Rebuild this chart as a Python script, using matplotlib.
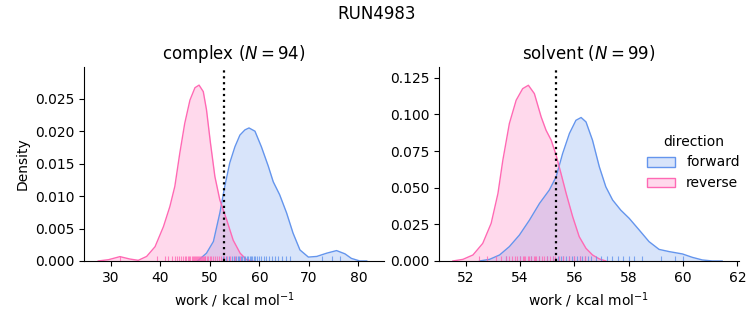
import matplotlib.pyplot as plt
from matplotlib.colors import to_rgba
from matplotlib.patches import Patch

# density curves (x: work, y: density)
cx_rev_x = [27.4, 29.5, 31.8, 33.8, 35.5, 37.2, 38.9, 40.6, 41.9, 42.9, 43.9, 44.9, 45.96, 46.97,
            47.8, 48.65, 49.3, 50.1, 51.0, 52.0, 53.4, 54.7, 56.1, 57.4, 58.7]
cx_rev_y = [0.0, 0.0002, 0.00067, 0.0003, 0.0001, 0.0007, 0.0022, 0.0053, 0.0084, 0.0115, 0.0166,
            0.0212, 0.0248, 0.0267, 0.0271, 0.0261, 0.0233, 0.0182, 0.013, 0.0094, 0.0063, 0.0032,
            0.0012, 0.0002, 0.0]
cx_fwd_x = [47.5, 49.3, 50.7, 52.0, 53.0, 54.0, 55.05, 56.06, 57.07, 57.9, 59.1, 60.4, 61.8, 62.8,
            64.1, 65.5, 66.8, 68.2, 69.9, 71.6, 73.6, 75.6, 77.3, 78.6, 80.3, 81.7]
cx_fwd_y = [0.0, 0.0012, 0.003, 0.0074, 0.0115, 0.0151, 0.0176, 0.0194, 0.0202, 0.0205, 0.0200,
            0.0176, 0.0146, 0.0122, 0.0102, 0.0074, 0.0043, 0.0017, 0.0006, 0.0007, 0.0012, 0.0016,
            0.0011, 0.0004, 0.0, 0.0]
sv_rev_x = [51.53, 51.9, 52.27, 52.63, 52.94, 53.19, 53.37, 53.61, 53.86, 54.1, 54.31, 54.53, 54.78,
            54.96, 55.15, 55.33, 55.51, 55.7, 55.94, 56.18, 56.43, 56.67, 56.92, 57.16]
sv_rev_y = [0.0, 0.0011, 0.0041, 0.012, 0.0257, 0.0461, 0.0688, 0.0938, 0.1097, 0.1176, 0.1199,
            0.1142, 0.0983, 0.0892, 0.0824, 0.0722, 0.0597, 0.0461, 0.0302, 0.0166, 0.0086, 0.0041,
            0.0014, 0.0]
sv_fwd_x = [52.51, 52.88, 53.25, 53.61, 53.98, 54.35, 54.72, 55.08, 55.33, 55.57, 55.82, 56.06, 56.25,
            56.43, 56.67, 56.92, 57.16, 57.41, 57.71, 58.02, 58.39, 58.75, 59.12, 59.49, 59.98, 60.34,
            60.71, 61.08, 61.44]
sv_fwd_y = [0.0, 0.0011, 0.0041, 0.0098, 0.0177, 0.0279, 0.0393, 0.0484, 0.0574, 0.0733, 0.087,
            0.096, 0.0979, 0.0949, 0.0824, 0.0643, 0.0506, 0.0416, 0.0347, 0.0291, 0.0211, 0.0132,
            0.0079, 0.0064, 0.0048, 0.0025, 0.0007, 0.0, 0.0]

# rug positions (estimated)
cx_rev_rug = [31.8, 39.2, 41.0, 41.6, 42.3, 42.9, 43.4, 43.8, 44.2, 44.6, 44.9, 45.2, 45.5, 45.8,
              46.0, 46.3, 46.5, 46.7, 46.9, 47.1, 47.3, 47.5, 47.7, 47.9, 48.1, 48.3, 48.5, 48.7,
              48.9, 49.1, 49.4, 49.7, 50.0, 50.3, 50.6, 51.0, 51.4, 51.8, 52.3, 52.8, 53.4, 54.1,
              55.0, 56.0]
cx_fwd_rug = [52.6, 53.3, 53.9, 54.4, 54.8, 55.2, 55.6, 55.9, 56.2, 56.5, 56.8, 57.1, 57.4, 57.7,
              58.0, 58.3, 58.6, 58.9, 59.2, 59.6, 60.0, 60.4, 60.9, 61.4, 61.9, 62.5, 63.1, 63.8,
              64.5, 65.3, 66.2, 72.6, 74.7, 76.3]
sv_rev_rug = [52.5, 52.8, 53.1, 53.3, 53.5, 53.6, 53.7, 53.8, 53.9, 54.0, 54.1, 54.15, 54.2, 54.3,
              54.35, 54.4, 54.5, 54.55, 54.6, 54.7, 54.8, 54.9, 55.0, 55.1, 55.2, 55.3, 55.45, 55.6,
              55.8, 56.0, 56.2, 56.4]
sv_fwd_rug = [53.5, 54.0, 54.4, 54.7, 55.0, 55.2, 55.4, 55.5, 55.6, 55.7, 55.8, 55.9, 56.0, 56.1,
              56.2, 56.3, 56.4, 56.5, 56.6, 56.8, 57.0, 57.2, 57.4, 57.6, 57.8, 58.0, 58.2, 58.5,
              59.2, 59.7, 60.0]

estimates = [52.8, 55.34]
titles = ['complex ($N = 94$)', 'solvent ($N = 99$)']
fwd_color = '#6495ED'
rev_color = '#FF69B4'

fig = plt.figure(figsize=(7.53, 3.25), dpi=100)
ax1 = fig.add_axes([0.112, 0.197, 0.398, 0.597])
ax2 = fig.add_axes([0.583, 0.197, 0.398, 0.597])

panels = [
    (ax1, cx_fwd_x, cx_fwd_y, cx_rev_x, cx_rev_y, cx_fwd_rug, cx_rev_rug),
    (ax2, sv_fwd_x, sv_fwd_y, sv_rev_x, sv_rev_y, sv_fwd_rug, sv_rev_rug),
]
for i, (ax, fx, fy, rx, ry, frug, rrug) in enumerate(panels):
    for x, y, c in [(fx, fy, fwd_color), (rx, ry, rev_color)]:
        ax.fill_between(x, y, 0, color=c, alpha=0.25, lw=0)
        ax.plot(x, y, color=c, lw=1)
    tr = ax.get_xaxis_transform()
    ax.vlines(frug, 0, 0.025, transform=tr, color=fwd_color, lw=0.8, alpha=0.8)
    ax.vlines(rrug, 0, 0.025, transform=tr, color=rev_color, lw=0.8, alpha=0.8)
    ax.axvline(estimates[i], color='black', ls=':', lw=1.6)
    ax.set_title(titles[i], fontsize=12)
    ax.set_xlabel('work / kcal mol$^{-1}$')
    ax.spines['top'].set_visible(False)
    ax.spines['right'].set_visible(False)

ax1.set_xlim(24.6, 85.2)
ax1.set_ylim(0, 0.0299)
ax1.set_xticks([30, 40, 50, 60, 70, 80])
ax1.set_yticks([0, 0.005, 0.01, 0.015, 0.02, 0.025])
ax1.set_ylabel('Density')
ax2.set_xlim(51.02, 62.05)
ax2.set_ylim(0, 0.1324)
ax2.set_xticks([52, 54, 56, 58, 60, 62])
ax2.set_yticks([0, 0.025, 0.05, 0.075, 0.1, 0.125])

# legend patches: translucent fill, solid edge
handles = [Patch(facecolor=to_rgba(fwd_color, 0.25), edgecolor=fwd_color),
           Patch(facecolor=to_rgba(rev_color, 0.25), edgecolor=rev_color)]
fig.legend(handles, ['forward', 'reverse'], title='direction', frameon=False,
           loc='center left', bbox_to_anchor=(0.843, 0.5))
fig.suptitle('RUN4983', fontsize=12, y=0.985)

fig.savefig('out.png', dpi=100)
